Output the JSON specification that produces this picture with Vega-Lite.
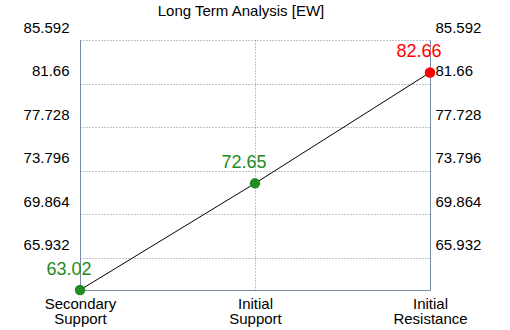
{
  "$schema": "https://vega.github.io/schema/vega-lite/v6.json",
  "width": 350,
  "height": 250,
  "autosize": {"type": "none"},
  "padding": {"left": 80, "top": 40, "right": 80, "bottom": 40},
  "background": "white",
  "title": {
    "text": "Long Term Analysis [EW]",
    "anchor": "middle",
    "offset": 1,
    "dx": -14,
    "font": "Liberation Sans",
    "fontSize": 15,
    "fontWeight": "normal",
    "color": "black"
  },
  "config": {
    "view": {"stroke": null},
    "font": "Liberation Sans"
  },
  "data": {
    "values": [
      {"label": "Secondary Support", "value": 63.02, "kind": "Support"},
      {"label": "Initial Support", "value": 72.65, "kind": "Support"},
      {"label": "Initial Resistance", "value": 82.66, "kind": "Resistance"}
    ]
  },
  "encoding": {
    "x": {
      "field": "label",
      "type": "nominal",
      "sort": ["Secondary Support", "Initial Support", "Initial Resistance"],
      "scale": {"type": "point", "padding": 0},
      "axis": {
        "title": null,
        "labelAngle": 0,
        "labelExpr": "split(datum.label, ' ')",
        "labelFont": "Liberation Sans",
        "labelFontSize": 15,
        "labelLineHeight": 15,
        "labelColor": "black",
        "labelPadding": 6,
        "ticks": false,
        "domain": true,
        "domainColor": "#7a8aa8",
        "domainWidth": 1,
        "grid": true,
        "gridColor": "#7a8aa8",
        "gridDash": [1, 2],
        "gridWidth": 1
      }
    }
  },
  "layer": [
    {
      "mark": {"type": "line", "color": "black", "strokeWidth": 1},
      "encoding": {
        "y": {
          "field": "value",
          "type": "quantitative",
          "scale": {"domain": [63.02, 85.592], "nice": false, "zero": false},
          "axis": {
            "orient": "left",
            "title": null,
            "values": [65.932, 69.864, 73.796, 77.728, 81.66, 85.592],
            "format": ".3~f",
            "labelFont": "Liberation Sans",
            "labelFontSize": 15,
            "labelColor": "black",
            "labelPadding": 11,
            "labelOffset": -13,
            "labelFlush": false,
            "labelOverlap": false,
            "ticks": false,
            "domain": true,
            "domainColor": "#7a8aa8",
            "domainWidth": 1,
            "grid": true,
            "gridColor": "#7a8aa8",
            "gridDash": [1, 2],
            "gridWidth": 1
          }
        }
      }
    },
    {
      "mark": {"type": "point", "filled": true, "size": 110, "opacity": 1},
      "encoding": {
        "y": {
          "field": "value",
          "type": "quantitative",
          "axis": {
            "orient": "right",
            "title": null,
            "values": [65.932, 69.864, 73.796, 77.728, 81.66, 85.592],
            "format": ".3~f",
            "labelFont": "Liberation Sans",
            "labelFontSize": 15,
            "labelColor": "black",
            "labelPadding": 5,
            "labelOffset": -13,
            "labelFlush": false,
            "labelOverlap": false,
            "ticks": false,
            "domain": true,
            "domainColor": "#7a8aa8",
            "domainWidth": 1,
            "grid": false
          }
        },
        "color": {
          "field": "kind",
          "type": "nominal",
          "scale": {"domain": ["Support", "Resistance"], "range": ["#228B22", "#FF0000"]},
          "legend": null
        }
      }
    },
    {
      "mark": {"type": "text", "dx": -11, "dy": -20, "fontSize": 18, "font": "Liberation Sans", "baseline": "middle", "align": "center"},
      "encoding": {
        "y": {"field": "value", "type": "quantitative", "axis": null},
        "text": {"field": "value", "type": "quantitative", "format": ".2f"},
        "color": {
          "field": "kind",
          "type": "nominal",
          "scale": {"domain": ["Support", "Resistance"], "range": ["#228B22", "#FF0000"]},
          "legend": null
        }
      }
    }
  ],
  "resolve": {"axis": {"y": "independent"}}
}
